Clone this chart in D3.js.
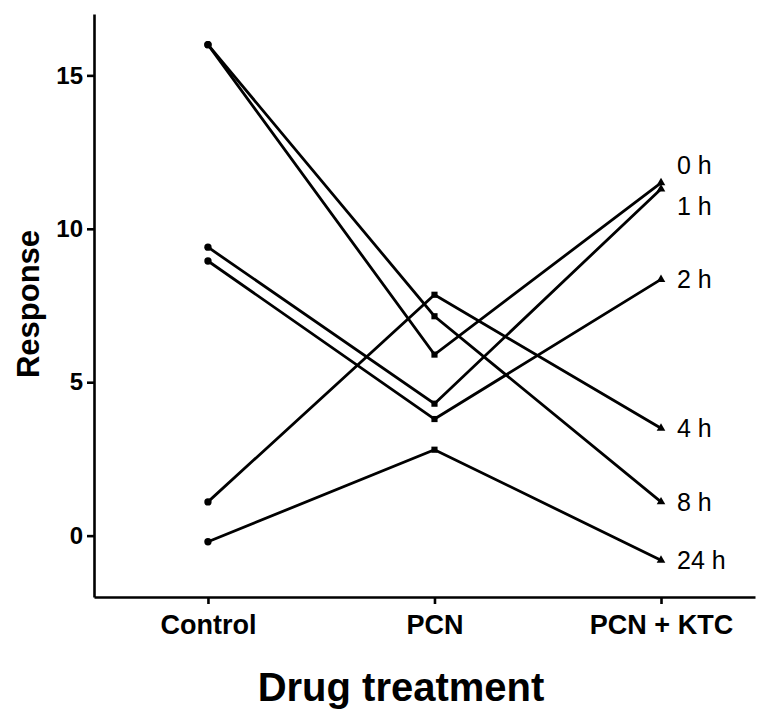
<!DOCTYPE html>
<html>
<head>
<meta charset="utf-8">
<script src="https://cdn.jsdelivr.net/npm/d3@7"></script>
<style>
  html, body { margin: 0; padding: 0; background: #fff; }
  svg { display: block; }
  text { font-family: "Liberation Sans", Arial, sans-serif; fill: #000; }
</style>
</head>
<body>
<svg id="chart" width="764" height="709"></svg>
<script>
// Treatment groups along the x axis
const categories = ["Control", "PCN", "PCN + KTC"];

// Time points, one line each
const seriesNames = ["0 h", "1 h", "2 h", "4 h", "8 h", "24 h"];

// Response for each time point across the three treatments
const resp0h  = [16.0, 5.9, 11.5];
const resp1h  = [9.4, 4.3, 11.3];
const resp2h  = [8.95, 3.8, 8.35];
const resp4h  = [1.1, 7.85, 3.5];
const resp8h  = [16.0, 7.15, 1.1];
const resp24h = [-0.2, 2.8, -0.8];

const yTicks = [0, 5, 10, 15];

const seriesValues = [resp0h, resp1h, resp2h, resp4h, resp8h, resp24h];

const svg = d3.select("#chart");

const x = d3.scalePoint()
  .domain(categories)
  .range([94, 755])
  .padding(0.459)
  .align(0.548);

const y = d3.scaleLinear()
  .domain([-2, 17])
  .range([597, 14]);

// Y axis
const yAxis = svg.append("g")
  .attr("transform", "translate(94,0)")
  .call(d3.axisLeft(y).tickValues(yTicks).tickSize(7).tickSizeOuter(0).tickPadding(4));
yAxis.select(".domain").attr("stroke", "#000").attr("stroke-width", 2.6);
yAxis.selectAll(".tick line").attr("stroke", "#000").attr("stroke-width", 2.6);
yAxis.selectAll(".tick text")
  .attr("font-family", "Liberation Sans, Arial, sans-serif")
  .attr("font-size", 24).attr("font-weight", "bold").attr("fill", "#000");

// X axis
const xAxis = svg.append("g")
  .attr("transform", "translate(0,597)")
  .call(d3.axisBottom(x).tickSize(7).tickSizeOuter(0).tickPadding(11));
xAxis.select(".domain").attr("stroke", "#000").attr("stroke-width", 2.6);
xAxis.selectAll(".tick line").attr("stroke", "#000").attr("stroke-width", 2.6);
xAxis.selectAll(".tick text")
  .attr("font-family", "Liberation Sans, Arial, sans-serif")
  .attr("font-size", 27).attr("font-weight", "bold").attr("fill", "#000");

// Axis titles
svg.append("text")
  .attr("transform", "translate(39,304) rotate(-90)")
  .attr("text-anchor", "middle")
  .attr("font-size", 31).attr("font-weight", "bold")
  .text("Response");

svg.append("text")
  .attr("x", 401).attr("y", 701)
  .attr("text-anchor", "middle")
  .attr("font-size", 40).attr("font-weight", "bold")
  .text("Drug treatment");

// Lines
const line = d3.line()
  .x((d, i) => x(categories[i]))
  .y(d => y(d));

const g = svg.append("g");
seriesValues.forEach(vals => {
  g.append("path")
    .attr("d", line(vals))
    .attr("fill", "none")
    .attr("stroke", "#000")
    .attr("stroke-width", 2.8)
    .attr("stroke-linejoin", "miter");
});

// Markers: circle for Control, square for PCN, triangle for PCN + KTC
const symbolTypes = [d3.symbolCircle, d3.symbolSquare, d3.symbolTriangle];
const symbolSizes = [42, 38, 32];
seriesValues.forEach(vals => {
  vals.forEach((v, i) => {
    g.append("path")
      .attr("d", d3.symbol().type(symbolTypes[i]).size(symbolSizes[i])())
      .attr("transform", `translate(${x(categories[i])},${y(v)})`)
      .attr("fill", "#000");
  });
});

// End labels, spread apart so neighbours don't overlap
const minGap = 41;
const labels = seriesNames.map((name, k) => ({
  name, ty: y(seriesValues[k][2])
})).sort((a, b) => a.ty - b.ty);
for (let iter = 0; iter < 50; iter++) {
  for (let i = 1; i < labels.length; i++) {
    const gap = labels[i].ty - labels[i - 1].ty;
    if (gap < minGap) {
      const push = (minGap - gap) / 2;
      labels[i - 1].ty -= push;
      labels[i].ty += push;
    }
  }
}
const xEnd = x(categories[2]);
labels.forEach(l => {
  svg.append("text")
    .attr("x", xEnd + 16)
    .attr("y", l.ty)
    .attr("dy", "0.35em")
    .attr("font-size", 25)
    .text(l.name);
});
</script>
</body>
</html>
